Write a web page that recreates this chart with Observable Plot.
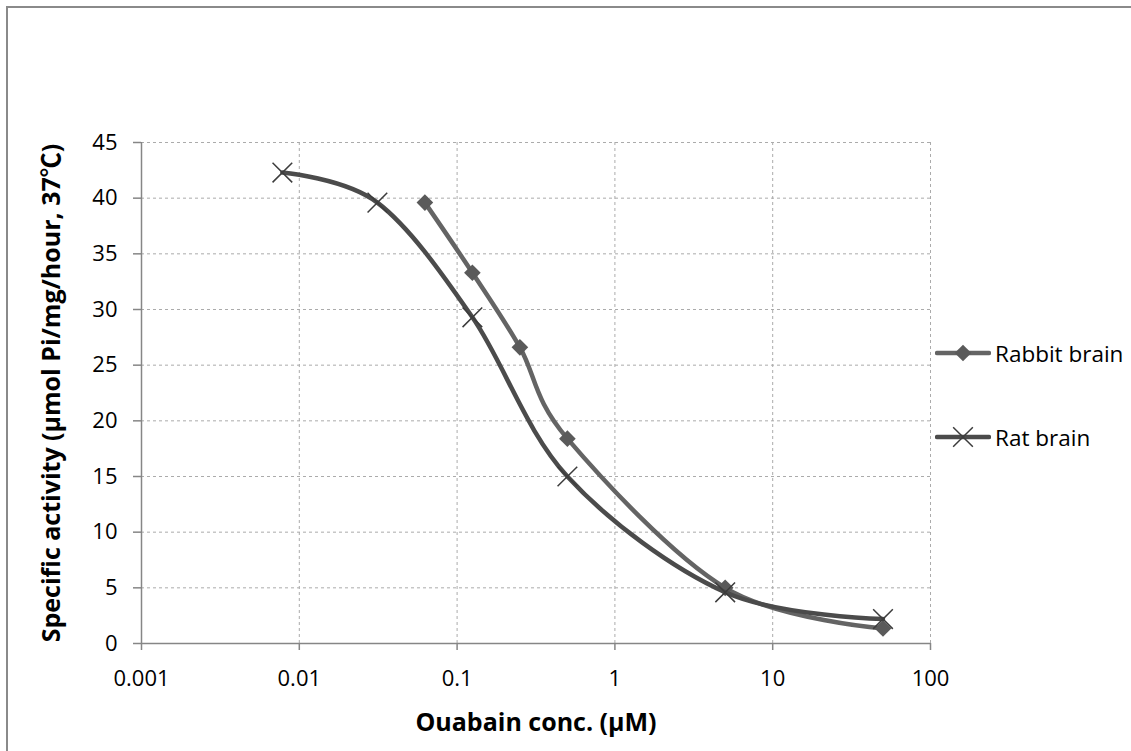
<!DOCTYPE html>
<html><head><meta charset="utf-8">
<script src="https://cdn.jsdelivr.net/npm/d3@7"></script>
<script src="https://cdn.jsdelivr.net/npm/@observablehq/plot@0.6"></script>
<style>
body{margin:0;background:#fff;}
#wrap{position:relative;width:1131px;height:751px;overflow:hidden;font-family:"Open Sans","Noto Sans CJK JP",sans-serif;background:#fff;}
#border{position:absolute;left:6px;top:6px;width:1300px;height:900px;border-left:2px solid #8a8a8a;border-top:2px solid #8a8a8a;}
#chart{position:absolute;left:0;top:0;}
.legend-item{position:absolute;left:935px;height:30px;display:flex;align-items:center;font-size:22.5px;color:#000;white-space:nowrap;}
.legend-item svg{margin-right:4px;}
g[aria-label="x-axis label"] text, g[aria-label="y-axis label"] text{font-weight:bold;font-size:25px;}
</style></head>
<body>
<div id="wrap"><div id="border"></div><div id="chart"></div><div id="legend"></div></div>
<script>
// Data
const rabbitX = [0.0625, 0.125, 0.25, 0.5, 5, 50];
const rabbitY = [39.6, 33.3, 26.6, 18.4, 5.0, 1.35];
const ratX = [0.0078125, 0.03125, 0.125, 0.5, 5, 50];
const ratY = [42.3, 39.6, 29.3, 15.0, 4.6, 2.2];
const seriesNames = ["Rabbit brain", "Rat brain"];
const xTicks = [0.001, 0.01, 0.1, 1, 10, 100];
const xTickLabels = ["0.001", "0.01", "0.1", "1", "10", "100"];
const yTicks = [0, 5, 10, 15, 20, 25, 30, 35, 40, 45];
const xTitle = "Ouabain conc. (µM)";
const yTitle = "Specific activity (µmol Pi/mg/hour, 37℃)";

const rabbit = rabbitX.map((x, i) => ({x, y: rabbitY[i]}));
const rat = ratX.map((x, i) => ({x, y: ratY[i]}));
const xLabelMap = new Map(xTicks.map((t, i) => [t, xTickLabels[i]]));

const rabbitColor = "#646464", ratColor = "#4b4b4b";
const axisGray = "#868686", gridGray = "#ababab";

const chart = Plot.plot({
  width: 1131, height: 751,
  marginLeft: 141, marginRight: 201, marginTop: 142, marginBottom: 108,
  style: {fontFamily: "'Open Sans', 'Noto Sans CJK JP', sans-serif", background: "transparent", color: "#000"},
  x: {type: "log", domain: [0.001, 100]},
  y: {domain: [0, 45]},
  marks: [
    Plot.gridX(xTicks.slice(1), {stroke: gridGray, strokeOpacity: 1, strokeDasharray: "3,3"}),
    Plot.gridY(yTicks.slice(1), {stroke: gridGray, strokeOpacity: 1, strokeDasharray: "3,3"}),
    Plot.ruleY([0], {stroke: axisGray, strokeWidth: 1.5}),
    Plot.ruleX([0.001], {stroke: axisGray, strokeWidth: 1.5}),
    Plot.axisX(xTicks, {tickSize: 7, tickPadding: 20, stroke: axisGray, strokeWidth: 1.5, fontSize: 22,
      tickFormat: d => xLabelMap.get(d), label: xTitle, labelAnchor: "center", labelArrow: "none", labelOffset: 87}),
    Plot.axisY(yTicks, {tickSize: 8, tickPadding: 16, stroke: axisGray, strokeWidth: 1.5, fontSize: 22,
      label: yTitle, labelAnchor: "center", labelArrow: "none", labelOffset: 99}),
    Plot.line(rabbit, {x: "x", y: "y", stroke: rabbitColor, strokeWidth: 4.5, curve: "cardinal", tension: 0}),
    Plot.dot(rabbit, {x: "x", y: "y", symbol: "diamond2", r: 7.5, fill: "#5a5a5a", stroke: "none"}),
    Plot.line(rat, {x: "x", y: "y", stroke: ratColor, strokeWidth: 4.5, curve: "cardinal", tension: 0}),
    Plot.dot(rat, {x: "x", y: "y", symbol: "times", r: 9, stroke: "#3c3c3c", strokeWidth: 1.5, fill: "none"})
  ]
});
document.getElementById("chart").appendChild(chart);

// Legend
const legend = d3.select("#legend");
const items = [
  {name: seriesNames[0], color: rabbitColor, marker: "diamond", top: 353},
  {name: seriesNames[1], color: ratColor, marker: "times", top: 437}
];
for (const it of items) {
  const div = legend.append("div").attr("class", "legend-item").style("top", (it.top - 15) + "px");
  const svg = div.append("svg").attr("width", 56).attr("height", 30);
  svg.append("line").attr("x1", 2).attr("x2", 54).attr("y1", 15).attr("y2", 15)
    .attr("stroke", it.color).attr("stroke-width", 4.5).attr("stroke-linecap", "round");
  if (it.marker === "diamond") {
    svg.append("path").attr("transform", "translate(28,15)")
      .attr("d", d3.symbol(d3.symbolDiamond2, Math.PI * 7.5 * 7.5)()).attr("fill", "#5a5a5a");
  } else {
    svg.append("path").attr("transform", "translate(28,15)")
      .attr("d", d3.symbol(d3.symbolTimes, Math.PI * 9 * 9)()).attr("fill", "none")
      .attr("stroke", "#3c3c3c").attr("stroke-width", 1.5);
  }
  div.append("span").text(it.name);
}
</script>
</body></html>
